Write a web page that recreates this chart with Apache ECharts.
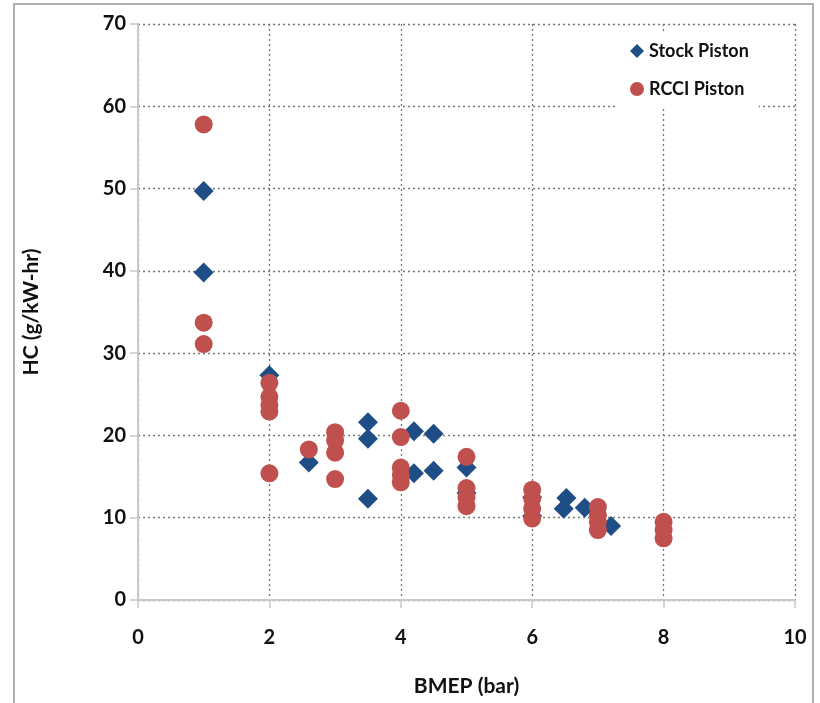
<!DOCTYPE html>
<html>
<head>
<meta charset="utf-8">
<script src="https://cdn.jsdelivr.net/npm/echarts@6/dist/echarts.min.js"></script>
<style>
html,body{margin:0;padding:0;background:#fff;}
#chart{width:820px;height:703px;}
</style>
</head>
<body>
<div id="chart"></div>
<script>
const stockName = 'Stock Piston';
const rcciName = 'RCCI Piston';
const stockX = [1, 1, 2, 2.6, 3.5, 3.5, 3.5, 4.2, 4.2, 4.5, 4.5, 5, 5, 6, 6, 6.52, 6.48, 6.8, 7.2];
const stockY = [49.7, 39.8, 27.3, 16.7, 21.6, 19.6, 12.3, 20.5, 15.4, 20.2, 15.7, 16.1, 13.0, 12.5, 10.2, 12.4, 11.1, 11.2, 9.0];
const rcciX = [1, 1, 1, 2, 2, 2, 2, 2, 2.6, 3, 3, 3, 3, 4, 4, 4, 4, 4, 5, 5, 5, 5, 6, 6, 6, 6, 7, 7, 7, 7, 8, 8, 8];
const rcciY = [57.8, 33.7, 31.1, 26.4, 24.7, 23.7, 22.9, 15.4, 18.3, 20.4, 19.4, 17.9, 14.7, 23.0, 19.8, 16.1, 15.2, 14.3, 17.4, 13.6, 12.5, 11.4, 13.4, 12.3, 11.1, 9.9, 11.3, 10.3, 9.5, 8.5, 9.5, 8.5, 7.5];
const xTitle = 'BMEP (bar)';
const yTitle = 'HC (g/kW-hr)';

const FONT = 'Lato, "Open Sans", sans-serif';
const chart = echarts.init(document.getElementById('chart'));
const pairs = (xs, ys) => xs.map((x, i) => [x, ys[i]]);

chart.setOption({
  animation: false,
  backgroundColor: '#fff',
  grid: { left: 138, right: 25, top: 24, bottom: 103, containLabel: false },
  graphic: [{
    type: 'rect', z: -10,
    shape: { x: 14, y: 4, width: 799, height: 720 },
    style: { fill: 'none', stroke: '#b0b0b0', lineWidth: 2 }
  }],
  legend: {
    orient: 'vertical',
    left: 618, top: 34,
    padding: [8, 10, 10, 12],
    itemGap: 20,
    itemWidth: 14, itemHeight: 14,
    backgroundColor: '#fff',
    textStyle: { fontFamily: FONT, fontWeight: 'bold', fontSize: 18, color: '#111' },
    data: [
      { name: stockName, icon: 'diamond' },
      { name: rcciName, icon: 'circle' }
    ]
  },
  xAxis: {
    type: 'value', min: 0, max: 10, interval: 2,
    name: xTitle, nameLocation: 'middle', nameGap: 76,
    nameTextStyle: { fontFamily: FONT, fontWeight: 'bold', fontSize: 21, color: '#111' },
    axisLine: { show: true, onZero: false, lineStyle: { color: '#c8c8c8', width: 2 } },
    axisTick: { show: true, length: 8, lineStyle: { color: '#c8c8c8', width: 1.5 } },
    axisLabel: { fontFamily: FONT, fontWeight: 'bold', fontSize: 20, color: '#111', margin: 28 },
    splitLine: { show: true, lineStyle: { type: [2, 3], color: '#777', width: 1.3 } }
  },
  yAxis: {
    type: 'value', min: 0, max: 70, interval: 10,
    name: yTitle, nameLocation: 'middle', nameGap: 96, nameRotate: 90,
    nameTextStyle: { fontFamily: FONT, fontWeight: 'bold', fontSize: 21, color: '#111' },
    axisLine: { show: true, lineStyle: { color: '#c8c8c8', width: 2 } },
    axisTick: { show: true, length: 8, lineStyle: { color: '#c8c8c8', width: 1.5 } },
    axisLabel: { fontFamily: FONT, fontWeight: 'bold', fontSize: 20, color: '#111', margin: 12 },
    splitLine: { show: true, lineStyle: { type: [2, 3], color: '#777', width: 1.3 } }
  },
  series: [
    {
      name: stockName, type: 'scatter', symbol: 'diamond', symbolSize: 20,
      itemStyle: { color: '#1f4e86', opacity: 1 },
      data: pairs(stockX, stockY)
    },
    {
      name: rcciName, type: 'scatter', symbol: 'circle', symbolSize: 18,
      itemStyle: { color: '#c0504d', opacity: 1 },
      data: pairs(rcciX, rcciY)
    }
  ]
});
</script>
</body>
</html>
